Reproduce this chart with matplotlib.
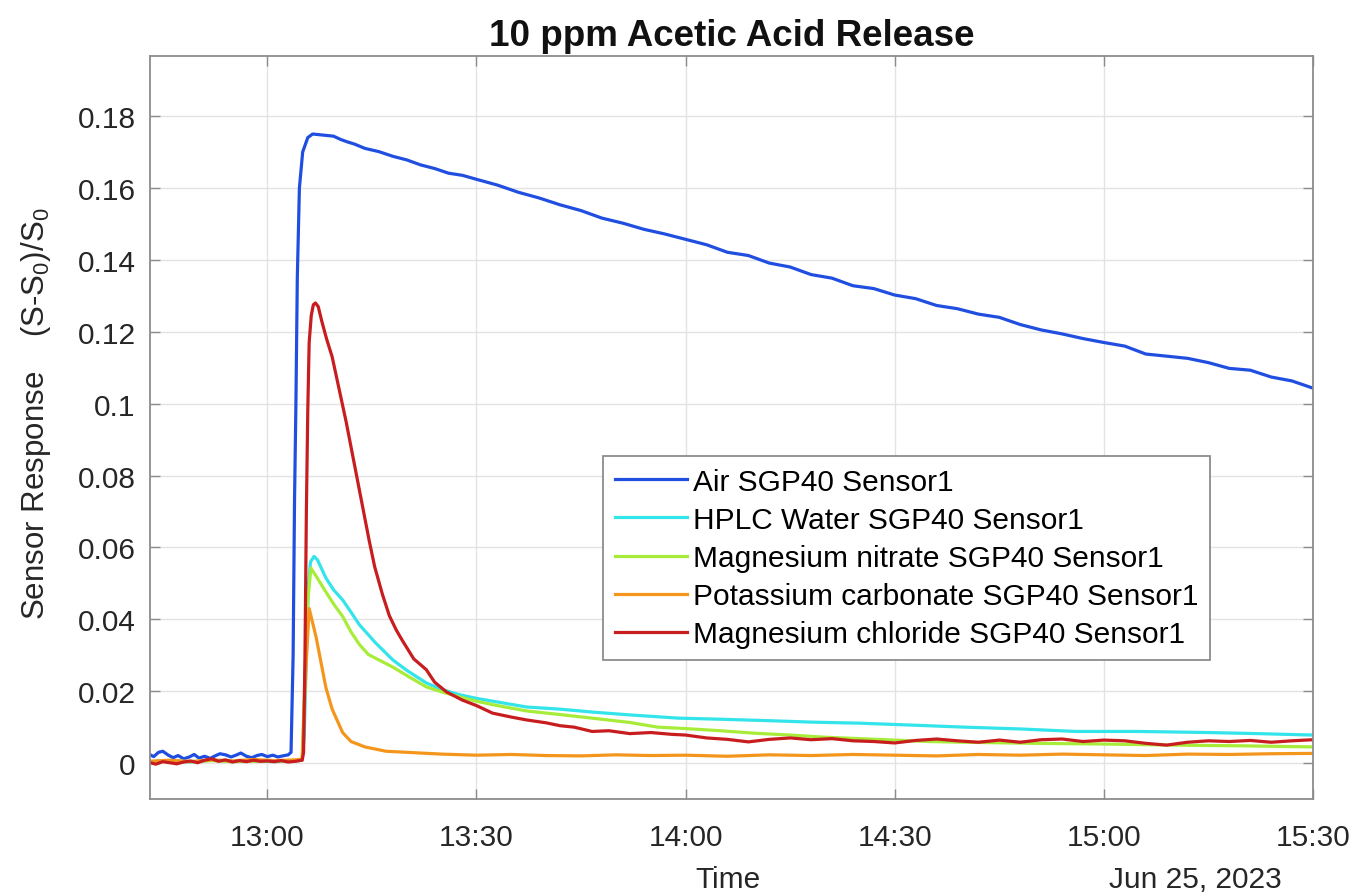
import numpy as np
import pandas as pd
import matplotlib
matplotlib.use("Agg")
import matplotlib.pyplot as plt
import matplotlib.dates as mdates
from matplotlib.ticker import FuncFormatter

plt.rcParams['font.family'] = ['Liberation Sans', 'DejaVu Sans']
plt.rcParams['mathtext.default'] = 'regular'

# times are minutes after 13:00 on the day of the run
start = pd.Timestamp('2023-06-25 13:00')

air_t = [-17, -16.3, -15.6, -15, -14.2, -13.5, -12.8, -12, -11.2, -10.5, -9.8, -9, -8.2, -7.5,
         -6.8, -6, -5.2, -4.5, -3.8, -3, -2.2, -1.5, -0.8, 0, 0.8, 1.5, 2.2, 3.0, 3.4,
         3.7, 3.9, 4.1, 4.3, 4.6, 5.07, 5.8, 6.5, 7.5, 8.5, 9.5, 10.5, 11.5, 12.5, 14, 16, 18,
         20, 22, 24, 26, 28, 30, 33, 36, 39, 42, 45, 48, 51, 54, 57, 60, 63, 66, 69, 72, 75,
         78, 81, 84, 87, 90, 93, 96, 99, 102, 105, 108, 111, 114, 117, 120, 123, 126, 129,
         132, 135, 138, 141, 144, 147, 150]
air_v = [0.0025, 0.0018, 0.0030, 0.0033, 0.0022, 0.0015, 0.0021, 0.0012, 0.0017, 0.0024, 0.0014,
         0.0019, 0.0013, 0.0020, 0.0026, 0.0023, 0.0017, 0.0022, 0.0028, 0.0019, 0.0015, 0.0021,
         0.0024, 0.0018, 0.0022, 0.0017, 0.0020, 0.0023, 0.0030,
         0.030, 0.073, 0.100, 0.135, 0.160, 0.170, 0.174, 0.1750, 0.1748, 0.1746, 0.1744,
         0.1735, 0.1728, 0.1722, 0.1710, 0.1701, 0.1688, 0.1678, 0.1664, 0.1654, 0.1641,
         0.1635, 0.1624, 0.1608, 0.1588, 0.1572, 0.1553, 0.1537, 0.1516, 0.1502, 0.1485,
         0.1472, 0.1457, 0.1442, 0.1421, 0.1412, 0.1391, 0.1380, 0.1359, 0.1349, 0.1328,
         0.1320, 0.1302, 0.1292, 0.1273, 0.1264, 0.1249, 0.1240, 0.1220, 0.1205, 0.1194,
         0.1181, 0.1170, 0.1160, 0.1138, 0.1132, 0.1126, 0.1114, 0.1098, 0.1093, 0.1074,
         0.1063, 0.1043]

hplc_t = [-17, -14, -11, -8, -5, -2, 1, 4, 5.0, 5.3, 5.6, 5.9, 6.2, 6.7, 7.2, 8.4, 9.5, 10.8, 12,
          13.2, 15.5, 18, 20, 22.8, 25, 27.6, 30, 33, 37.2, 42, 46.6, 52, 59, 65, 72, 78, 85,
          92, 100, 108, 116, 125, 135, 142, 150]
hplc_v = [0.0004, 0.0007, 0.0003, 0.0008, 0.0005, 0.0006, 0.0004, 0.0007, 0.0008, 0.008, 0.030,
          0.050, 0.0560, 0.0575, 0.0565, 0.0515, 0.0482, 0.0454, 0.0420, 0.0385, 0.0335,
          0.0287, 0.0258, 0.0223, 0.0205, 0.0190, 0.0180, 0.0170, 0.0156, 0.0150, 0.0142,
          0.0134, 0.0125, 0.0122, 0.0118, 0.0114, 0.0111, 0.0106, 0.0100, 0.0095, 0.0088,
          0.0088, 0.0085, 0.0082, 0.0078]

mgno3_t = [-17, -14, -11, -8, -5, -2, 1, 4, 5.0, 5.4, 5.8, 6.25, 7, 8.4, 9.6, 10.8, 12, 13.2,
           14.5, 16, 18, 20.5, 22.8, 25, 27.6, 30, 33, 37.2, 42, 46.6, 52, 56, 60, 65, 70, 75,
           80, 85, 90, 95, 100, 110, 120, 130, 140, 150]
mgno3_v = [0.0003, 0.0006, 0.0004, 0.0007, 0.0004, 0.0005, 0.0006, 0.0005, 0.0009, 0.025,
           0.045, 0.0542, 0.0520, 0.0476, 0.0440, 0.0408, 0.0365, 0.0330, 0.0302, 0.0287,
           0.0267, 0.0238, 0.0212, 0.0198, 0.0184, 0.0172, 0.0160, 0.0145, 0.0135, 0.0125,
           0.0113, 0.0100, 0.0096, 0.0090, 0.0083, 0.0078, 0.0072, 0.0068, 0.0064, 0.0060,
           0.0058, 0.0055, 0.0053, 0.0050, 0.0048, 0.0045]

k2co3_t = [-17, -14, -11, -8, -5, -2, 1, 4, 5.0, 5.5, 6.0, 6.5, 7.0, 7.7, 8.4, 9.3, 10.8, 12,
           14, 17, 20, 25, 30, 35, 40, 45, 50, 55, 60, 66, 72, 78, 84, 90, 96, 102, 108, 114,
           120, 126, 132, 138, 144, 150]
k2co3_v = [0.0005, 0.0008, 0.0004, 0.0009, 0.0006, 0.0010, 0.0007, 0.0009, 0.0011, 0.025,
           0.0430, 0.0390, 0.0350, 0.0280, 0.0210, 0.0150, 0.0085, 0.0060, 0.0045, 0.0033,
           0.0030, 0.0025, 0.0022, 0.0024, 0.0021, 0.0020, 0.0023, 0.0021, 0.0022, 0.0019,
           0.0023, 0.0021, 0.0024, 0.0022, 0.0020, 0.0024, 0.0022, 0.0025, 0.0023, 0.0021,
           0.0025, 0.0024, 0.0026, 0.0027]

mgcl2_t = [-17, -16, -15, -14, -13, -12, -11, -10, -9, -8, -7, -6, -5, -4, -3, -2, -1, 0, 1, 2,
           3, 4, 5.0, 5.2, 5.4, 5.6, 5.8, 6.0, 6.3, 6.6, 6.9, 7.3, 7.8, 8.5, 9.3, 10.3, 11.3,
           12.2, 13.2, 14.0, 14.6, 15.4, 16.5, 17.5, 18.5, 19.4, 21, 22.8, 24, 25.7, 28, 30,
           32.3, 35, 37.2, 40, 42, 44, 46.6, 49, 52, 55, 58, 60, 63, 66, 69, 72, 75, 78, 81,
           84, 87, 90, 93, 96, 99, 102, 105, 108, 111, 114, 117, 120, 123, 126, 129, 132,
           135, 138, 141, 144, 147, 150]
mgcl2_v = [0.0002, -0.0003, 0.0004, 0.0001, -0.0002, 0.0003, 0.0006, 0.0001, 0.0008, 0.0012,
           0.0005, 0.0009, 0.0003, 0.0007, 0.0004, 0.0008, 0.0005, 0.0006, 0.0004, 0.0007,
           0.0003, 0.0005, 0.0008, 0.003, 0.030, 0.070, 0.098, 0.117, 0.1245, 0.1275, 0.1280,
           0.1270, 0.1230, 0.1180, 0.1130, 0.1040, 0.0950, 0.0860, 0.0760, 0.0680, 0.0620,
           0.0546, 0.0470, 0.0410, 0.0370, 0.0340, 0.0290, 0.0260, 0.0225, 0.0198, 0.0175,
           0.0160, 0.0139, 0.0128, 0.0120, 0.0112, 0.0104, 0.0100, 0.0088, 0.0090, 0.0082,
           0.0085, 0.0080, 0.0078, 0.0070, 0.0066, 0.0059, 0.0066, 0.0070, 0.0065, 0.0068,
           0.0062, 0.0060, 0.0056, 0.0063, 0.0067, 0.0062, 0.0058, 0.0064, 0.0058, 0.0065,
           0.0067, 0.0060, 0.0064, 0.0062, 0.0055, 0.0050, 0.0058, 0.0062, 0.0060, 0.0063,
           0.0058, 0.0062, 0.0065]

labels = ['Air SGP40 Sensor1', 'HPLC Water SGP40 Sensor1', 'Magnesium nitrate SGP40 Sensor1',
          'Potassium carbonate SGP40 Sensor1', 'Magnesium chloride SGP40 Sensor1']
colors = ['#1f4ee0', '#33e4ea', '#a8ec3a', '#f5961c', '#c81d1f']
series = [(air_t, air_v), (hplc_t, hplc_v), (mgno3_t, mgno3_v), (k2co3_t, k2co3_v),
          (mgcl2_t, mgcl2_v)]


def to_time(mins):
    return start + pd.to_timedelta(np.array(mins), unit='m')


fig = plt.figure(figsize=(13.68, 8.95), dpi=100)
ax = fig.add_axes([0.1093, 0.1061, 0.8505, 0.8302])

for (t, v), lab, c in zip(series, labels, colors):
    ax.plot(to_time(t), v, color=c, lw=2.3, label=lab)

ax.set_xlim(start - pd.Timedelta(minutes=16.9), start + pd.Timedelta(minutes=150))
ax.set_ylim(-0.01, 0.1967)
ax.set_yticks(np.arange(0, 0.181, 0.02))
ax.yaxis.set_major_formatter(FuncFormatter(lambda y, p: '%g' % round(y, 3)))
ax.set_xticks(to_time([0, 30, 60, 90, 120, 150]))
ax.xaxis.set_major_formatter(mdates.DateFormatter('%H:%M'))

ax.grid(True, color='#e3e3e3', lw=1.0)
ax.set_axisbelow(True)
for s in ax.spines.values():
    s.set_color('#8c8c8c')
    s.set_linewidth(1.3)
ax.tick_params(direction='in', length=7, width=1, colors='#8c8c8c', labelcolor='#262626',
               labelsize=21.5, top=True, right=True)
ax.tick_params(axis='x', pad=17.5)
ax.tick_params(axis='y', pad=10)

ax.set_title('10 ppm Acetic Acid Release', fontsize=26.5, fontweight='bold', color='#111111',
             pad=8)
ax.set_xlabel('Time', fontsize=21.5, color='#262626', va='top')
ax.xaxis.set_label_coords(0.497, -0.0889)
ax.set_ylabel('Sensor Response    (S-S$_0$)/S$_0$', fontsize=22.5, color='#262626')
ax.yaxis.set_label_coords(-0.083, 0.52)
ax.text(0.9733, -0.0889, 'Jun 25, 2023', transform=ax.transAxes, ha='right', va='top',
        fontsize=21.5, color='#262626')

leg = ax.legend(loc='upper left', bbox_to_anchor=(0.39, 0.462), fontsize=21.5,
                handlelength=2.4, handletextpad=0.2, labelspacing=0.34, borderpad=0.4,
                fancybox=False, framealpha=1, edgecolor='#8c8c8c', borderaxespad=0)
leg.get_frame().set_linewidth(1.3)

fig.savefig('out.png', dpi=100)
